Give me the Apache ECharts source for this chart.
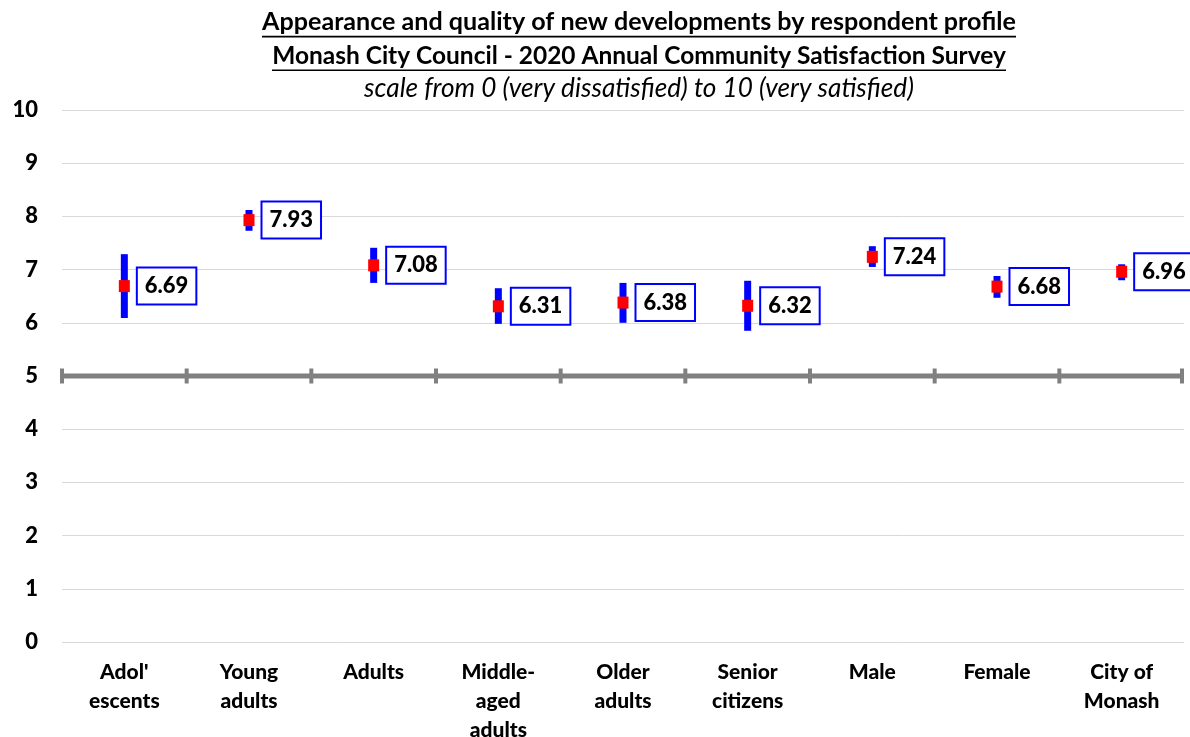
<!DOCTYPE html>
<html>
<head>
<meta charset="utf-8">
<script src="https://cdn.jsdelivr.net/npm/echarts@6/dist/echarts.min.js"></script>
<style>html,body{margin:0;padding:0;background:#fff;}#chart{width:1190px;height:737px;}</style>
</head>
<body>
<div id="chart"></div>
<script>
var categories = ["Adol'\nescents", "Young\nadults", "Adults", "Middle-\naged\nadults", "Older\nadults", "Senior\ncitizens", "Male", "Female", "City of\nMonash"];
var means = [6.69, 7.93, 7.08, 6.31, 6.38, 6.32, 7.24, 6.68, 6.96];
var lows  = [6.09, 7.73, 6.75, 5.98, 6.00, 5.85, 7.05, 6.47, 6.80];
var highs = [7.29, 8.12, 7.41, 6.65, 6.75, 6.79, 7.44, 6.88, 7.10];
var yTicks = [0, 1, 2, 3, 4, 5, 6, 7, 8, 9, 10];
var referenceValue = 5;
var titleLine1 = "Appearance and quality of new developments by respondent profile";
var titleLine2 = "Monash City Council - 2020 Annual Community Satisfaction Survey";
var subtitleText = "scale from 0 (very dissatisfied) to 10 (very satisfied)";

var FONT = "Lato, 'Open Sans', sans-serif";
var chart = echarts.init(document.getElementById('chart'));

var ctx = document.createElement('canvas').getContext('2d');
function fitSize(text, weight, style, target) {
  ctx.font = style + ' ' + weight + ' 20px ' + FONT;
  var w = ctx.measureText(text).width;
  return 20 * target / w;
}
function titleText(text, cx, cy, weight, style, targetW, underline) {
  var size = fitSize(text, weight, style, targetW);
  var els = [{
    type: 'text', x: cx, y: cy,
    style: { text: text, fill: '#000', font: style + ' ' + weight + ' ' + size.toFixed(2) + 'px ' + FONT, align: 'center', verticalAlign: 'middle' }
  }];
  if (underline) {
    els.push({ type: 'rect', shape: { x: cx - targetW / 2, y: cy + size * 0.55, width: targetW, height: 1.6 }, style: { fill: '#000' } });
  }
  return els;
}

var graphics = [].concat(
  titleText(titleLine1, 639, 22, 'bold', 'normal', 754, true),
  titleText(titleLine2, 639, 56, 'bold', 'normal', 734, true),
  titleText(subtitleText, 639, 89, 'normal', 'italic', 550, false)
);

var option = {
  backgroundColor: '#fff',
  animation: false,
  graphic: graphics,
  grid: { left: 62, right: 6, top: 110, bottom: 95, containLabel: false, outerBoundsMode: 'none' },
  xAxis: {
    type: 'category',
    data: categories,
    axisLine: { show: false },
    axisTick: { show: false },
    axisLabel: { color: '#000', fontFamily: FONT, fontWeight: 900, fontSize: 21, lineHeight: 29, margin: 16, interval: 0 }
  },
  yAxis: {
    type: 'value', min: yTicks[0], max: yTicks[yTicks.length - 1], interval: 1,
    axisLine: { show: false }, axisTick: { show: false },
    axisLabel: { color: '#000', fontFamily: FONT, fontWeight: 900, fontSize: 22, margin: 24 },
    splitLine: { lineStyle: { color: '#d9d9d9', width: 1 } }
  },
  series: [
    {
      type: 'custom', z: 3,
      data: categories.map(function (c, i) { return [i, referenceValue]; }),
      renderItem: function (params, api) {
        var p = api.coord([api.value(0), api.value(1)]);
        var bw = api.size([1, 0])[0];
        var left = p[0] - bw / 2, right = p[0] + bw / 2;
        var children = [
          { type: 'rect', shape: { x: left, y: p[1] - 2.5, width: bw, height: 5 }, style: { fill: '#808080' } },
          { type: 'rect', shape: { x: left - 2, y: p[1] - 7.5, width: 4, height: 15 }, style: { fill: '#808080' } }
        ];
        if (params.dataIndex === categories.length - 1) {
          children.push({ type: 'rect', shape: { x: right - 4, y: p[1] - 7.5, width: 4, height: 15 }, style: { fill: '#808080' } });
        }
        return { type: 'group', children: children };
      }
    },
    {
      type: 'custom', z: 4,
      data: lows.map(function (l, i) { return [i, l, highs[i]]; }),
      renderItem: function (params, api) {
        var lo = api.coord([api.value(0), api.value(1)]);
        var hi = api.coord([api.value(0), api.value(2)]);
        return { type: 'rect', shape: { x: lo[0] - 3.5, y: hi[1], width: 7, height: lo[1] - hi[1] }, style: { fill: '#0000ff' } };
      }
    },
    {
      type: 'scatter', z: 5,
      data: means,
      symbol: 'rect', symbolSize: [11, 12],
      itemStyle: { color: '#ff0000', opacity: 1 },
      emphasis: { disabled: true },
      label: {
        show: true, position: 'right', distance: 8,
        formatter: function (p) { return p.value.toFixed(2); },
        color: '#000', fontFamily: FONT, fontWeight: 900, fontSize: 22,
        backgroundColor: '#fff', borderColor: '#0000ff', borderWidth: 2,
        padding: [7, 7, 6, 7]
      }
    }
  ]
};
chart.setOption(option);
</script>
</body>
</html>
